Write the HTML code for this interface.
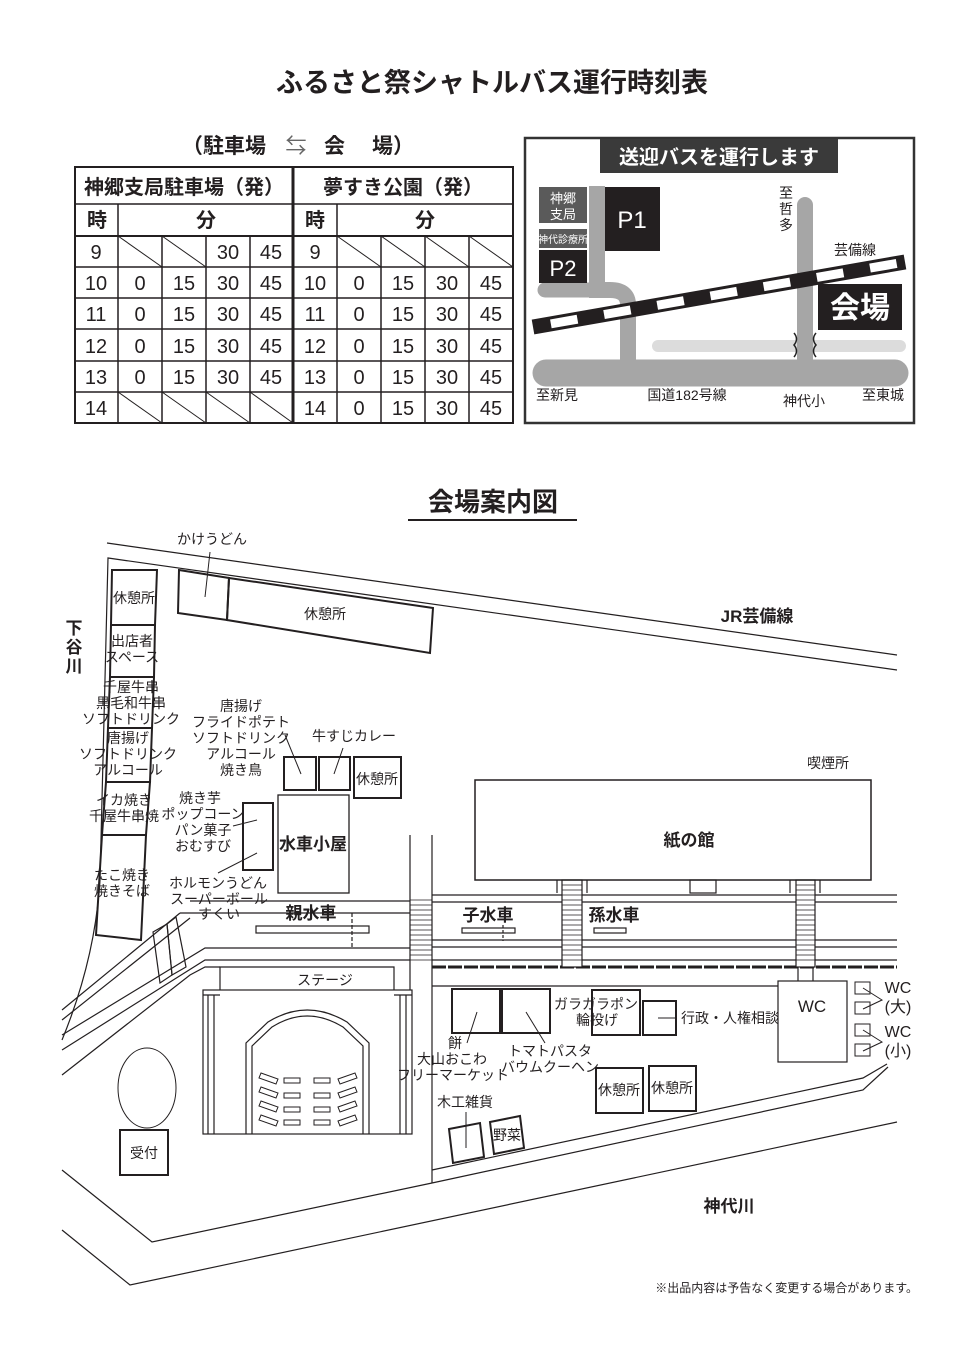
<!DOCTYPE html>
<html><head><meta charset="utf-8"><style>
html,body{margin:0;padding:0;background:#fff}
svg{display:block}
text{font-family:"Liberation Sans","Noto Sans CJK JP",sans-serif;fill:#231f20}
.b{font-weight:bold}
</style></head><body>
<svg width="954" height="1350" viewBox="0 0 954 1350" xmlns="http://www.w3.org/2000/svg">
<!-- Titles -->
<text x="492" y="92" font-size="27" class="b" text-anchor="middle">ふるさと祭シャトルバス運行時刻表</text>
<g font-size="21" class="b">
<text x="182" y="153">（駐車場</text>
<text x="296" y="153" text-anchor="middle" font-weight="normal" style="fill:#666">⇆</text>
<text x="324" y="153">会</text>
<text x="372" y="153">場）</text>
</g>

<!-- Timetable -->
<g stroke="#231f20" fill="none" stroke-width="1.5">
<rect x="75" y="167" width="438" height="256" stroke-width="2"/>
<line x1="75" y1="204" x2="513" y2="204"/>
<line x1="75" y1="236" x2="513" y2="236" stroke-width="2"/>
<line x1="75" y1="267" x2="513" y2="267"/>
<line x1="75" y1="298" x2="513" y2="298"/>
<line x1="75" y1="329" x2="513" y2="329"/>
<line x1="75" y1="361" x2="513" y2="361"/>
<line x1="75" y1="392" x2="513" y2="392"/>
<line x1="293" y1="167" x2="293" y2="423" stroke-width="3"/>
<line x1="118" y1="204" x2="118" y2="423"/>
<line x1="337" y1="204" x2="337" y2="423"/>
<line x1="162" y1="236" x2="162" y2="423"/><line x1="206" y1="236" x2="206" y2="423"/><line x1="250" y1="236" x2="250" y2="423"/>
<line x1="381" y1="236" x2="381" y2="423"/><line x1="425" y1="236" x2="425" y2="423"/><line x1="469" y1="236" x2="469" y2="423"/>
<line x1="118" y1="236" x2="162" y2="267" stroke-width="1"/><line x1="162" y1="236" x2="206" y2="267" stroke-width="1"/>
<line x1="337" y1="236" x2="381" y2="267" stroke-width="1"/><line x1="381" y1="236" x2="425" y2="267" stroke-width="1"/>
<line x1="425" y1="236" x2="469" y2="267" stroke-width="1"/><line x1="469" y1="236" x2="513" y2="267" stroke-width="1"/>
<line x1="118" y1="392" x2="162" y2="423" stroke-width="1"/><line x1="162" y1="392" x2="206" y2="423" stroke-width="1"/>
<line x1="206" y1="392" x2="250" y2="423" stroke-width="1"/><line x1="250" y1="392" x2="293" y2="423" stroke-width="1"/>
</g>
<g font-size="20">
<text x="184" y="194" class="b" text-anchor="middle">神郷支局駐車場（発）</text>
<text x="403" y="194" class="b" text-anchor="middle">夢すき公園（発）</text>
<text x="97" y="227" text-anchor="middle" class="b">時</text><text x="206" y="227" text-anchor="middle" class="b">分</text>
<text x="315" y="227" text-anchor="middle" class="b">時</text><text x="425" y="227" text-anchor="middle" class="b">分</text>
</g>
<g font-size="20" text-anchor="middle">
<text x="96" y="259">9</text><text x="228" y="259">30</text><text x="271" y="259">45</text><text x="315" y="259">9</text>
<text x="96" y="290">10</text><text x="140" y="290">0</text><text x="184" y="290">15</text><text x="228" y="290">30</text><text x="271" y="290">45</text>
<text x="315" y="290">10</text><text x="359" y="290">0</text><text x="403" y="290">15</text><text x="447" y="290">30</text><text x="491" y="290">45</text>
<text x="96" y="321">11</text><text x="140" y="321">0</text><text x="184" y="321">15</text><text x="228" y="321">30</text><text x="271" y="321">45</text>
<text x="315" y="321">11</text><text x="359" y="321">0</text><text x="403" y="321">15</text><text x="447" y="321">30</text><text x="491" y="321">45</text>
<text x="96" y="353">12</text><text x="140" y="353">0</text><text x="184" y="353">15</text><text x="228" y="353">30</text><text x="271" y="353">45</text>
<text x="315" y="353">12</text><text x="359" y="353">0</text><text x="403" y="353">15</text><text x="447" y="353">30</text><text x="491" y="353">45</text>
<text x="96" y="384">13</text><text x="140" y="384">0</text><text x="184" y="384">15</text><text x="228" y="384">30</text><text x="271" y="384">45</text>
<text x="315" y="384">13</text><text x="359" y="384">0</text><text x="403" y="384">15</text><text x="447" y="384">30</text><text x="491" y="384">45</text>
<text x="96" y="415">14</text>
<text x="315" y="415">14</text><text x="359" y="415">0</text><text x="403" y="415">15</text><text x="447" y="415">30</text><text x="491" y="415">45</text>
</g>

<!-- Access map -->
<rect x="525" y="138" width="389" height="285" fill="#fff" stroke="#333" stroke-width="2.5"/>
<rect x="600" y="139" width="238" height="34" fill="#3a3a3a"/>
<text x="719" y="164" font-size="20" class="b" text-anchor="middle" style="fill:#fff">送迎バスを運行します</text>
<g stroke="#a6a6a6" stroke-linecap="round" fill="none">
<line x1="658" y1="346" x2="900" y2="346" stroke="#dcdcdc" stroke-width="12"/>
<path d="M597 186 V290 H610 Q628 290 628 305 V373" stroke-width="16" stroke-linecap="butt"/>
<line x1="545" y1="290" x2="600" y2="290" stroke-width="15"/>
<line x1="805" y1="205" x2="805" y2="373" stroke-width="16"/>
<line x1="546" y1="373" x2="895" y2="373" stroke-width="27"/>
</g>
<g stroke="#222" stroke-width="1.5" fill="none">
<path d="M794 333 q5 6 0 12 q5 6 0 12"/><path d="M816 333 q-5 6 0 12 q-5 6 0 12"/>
</g>
<line x1="533" y1="327" x2="905" y2="262" stroke="#231f20" stroke-width="15"/>
<line x1="541" y1="325.6" x2="905" y2="262" stroke="#fff" stroke-width="9" stroke-dasharray="27 27" stroke-dashoffset="-10"/>
<rect x="539" y="187" width="48" height="36" fill="#5a5a5a"/>
<text x="563" y="203" font-size="13" text-anchor="middle" style="fill:#fff">神郷</text>
<text x="563" y="219" font-size="13" text-anchor="middle" style="fill:#fff">支局</text>
<rect x="539" y="229" width="48" height="19" fill="#5a5a5a"/>
<text x="563" y="243" font-size="10" text-anchor="middle" style="fill:#fff">神代診療所</text>
<rect x="539" y="250" width="48" height="33" fill="#231f20"/>
<text x="563" y="276" font-size="22" text-anchor="middle" style="fill:#fff">P2</text>
<rect x="605" y="187" width="55" height="64" fill="#231f20"/>
<text x="632" y="228" font-size="24" text-anchor="middle" style="fill:#fff">P1</text>
<rect x="818" y="284" width="84" height="46" fill="#231f20"/>
<text x="860" y="318" font-size="30" class="b" text-anchor="middle" style="fill:#fff">会場</text>
<g font-size="14">
<text x="786" y="198" text-anchor="middle">至</text><text x="786" y="214" text-anchor="middle">哲</text><text x="786" y="230" text-anchor="middle">多</text>
<text x="855" y="255" text-anchor="middle">芸備線</text>
<text x="557" y="400" text-anchor="middle">至新見</text>
<text x="687" y="400" text-anchor="middle">国道182号線</text>
<text x="804" y="406" text-anchor="middle">神代小</text>
<text x="883" y="400" text-anchor="middle">至東城</text>
</g>

<!-- Venue map title -->
<text x="493" y="511" font-size="26" class="b" text-anchor="middle">会場案内図</text>
<line x1="408" y1="520" x2="577" y2="520" stroke="#231f20" stroke-width="2"/>

<g stroke="#231f20" fill="none" stroke-width="1.2">
<line x1="107" y1="543" x2="897" y2="655"/>
<path d="M897 670 L108 558 L100 880 Q95 960 62 1040"/>
<path d="M62 1170 L152 1242 L432 1183"/>
<path d="M62 1230 L130 1285 L897 1122"/>
<path d="M432 1170 L863 1078 L887 1064"/>
<path d="M432 1183 L863 1090 L888 1067"/>
<line x1="410" y1="835" x2="410" y2="990"/>
<line x1="432" y1="835" x2="432" y2="1183"/>
<path d="M410 900 H432 M410 905 H432 M410 910 H432 M410 915 H432 M410 920 H432 M410 925 H432 M410 930 H432 M410 935 H432 M410 940 H432 M410 945 H432 M410 950 H432 M410 955 H432 M410 960 H432" stroke-width="0.7"/>
<line x1="432" y1="895" x2="897" y2="895"/>
<line x1="432" y1="902" x2="897" y2="902"/>
<line x1="432" y1="940" x2="897" y2="940"/>
<line x1="432" y1="947" x2="897" y2="947"/>
<line x1="432" y1="960" x2="897" y2="960"/>
<line x1="432" y1="967" x2="897" y2="967" stroke-width="3" stroke-dasharray="14 2"/>
<line x1="432" y1="986" x2="778" y2="986"/>
<path d="M190 901 H410"/>
<path d="M180 913 H410"/>
<path d="M62 1010 L180 913"/>
<path d="M62 1020 L190 918"/>
<path d="M62 1035 L205 948 H410"/>
<path d="M62 1050 L205 960 H410"/>
<path d="M62 1075 L190 975 L205 967 H220"/>
<polygon points="153,932 167,924 172,975 160,983"/>
<polygon points="167,924 176,917 186,967 172,975"/>
<rect x="256" y="926" width="113" height="7"/>
<line x1="352" y1="913" x2="352" y2="948" stroke-dasharray="4 2"/>
<rect x="462" y="928" width="53" height="5"/>
<line x1="503" y1="925" x2="503" y2="941" stroke-dasharray="3 2"/>
<rect x="594" y="928" width="32" height="5"/>
<rect x="562" y="880" width="20" height="87" fill="#fff"/>
<path d="M562 885 H582 M562 890 H582 M562 895 H582 M562 900 H582 M562 905 H582 M562 910 H582 M562 915 H582 M562 920 H582 M562 925 H582 M562 930 H582 M562 935 H582 M562 940 H582 M562 945 H582 M562 950 H582 M562 955 H582 M562 960 H582" stroke-width="0.7"/>
<rect x="796" y="880" width="19" height="87" fill="#fff"/>
<path d="M796 885 H815 M796 890 H815 M796 895 H815 M796 900 H815 M796 905 H815 M796 910 H815 M796 915 H815 M796 920 H815 M796 925 H815 M796 930 H815 M796 935 H815 M796 940 H815 M796 945 H815 M796 950 H815 M796 955 H815 M796 960 H815" stroke-width="0.7"/>
<line x1="798" y1="967" x2="798" y2="981"/><line x1="813" y1="967" x2="813" y2="981"/>
<rect x="475" y="780" width="396" height="100" stroke-width="1.5"/>
<rect x="690" y="880" width="26" height="13"/>
<line x1="557" y1="880" x2="557" y2="893"/><line x1="587" y1="880" x2="587" y2="893"/>
<line x1="790" y1="880" x2="790" y2="893"/><line x1="820" y1="880" x2="820" y2="893"/>
<path d="M220 990 V967 H394 V990"/>
<rect x="203" y="990" width="209" height="144"/>
<line x1="208" y1="995" x2="208" y2="1134"/><line x1="214" y1="995" x2="214" y2="1134"/>
<line x1="400" y1="995" x2="400" y2="1134"/><line x1="406" y1="995" x2="406" y2="1134"/>
<line x1="203" y1="995" x2="220" y2="995"/><line x1="394" y1="995" x2="412" y2="995"/>
<path d="M246 1134 V1043 L268 1022 Q307 998 347 1022 L369 1043 V1134"/>
<path d="M252 1134 V1046 L272 1027 Q307 1005 343 1027 L363 1046 V1134"/>
<g stroke-width="1">
<rect x="284" y="1078" width="16" height="5"/><rect x="314" y="1078" width="16" height="5"/>
<rect x="284" y="1093" width="16" height="5"/><rect x="314" y="1093" width="16" height="5"/>
<rect x="284" y="1107" width="16" height="5"/><rect x="314" y="1107" width="16" height="5"/>
<rect x="284" y="1120" width="16" height="5"/><rect x="314" y="1120" width="16" height="5"/>
<polygon points="261,1073 278,1079 276,1084 259,1078"/><polygon points="261,1087 278,1093 276,1098 259,1092"/>
<polygon points="261,1101 278,1107 276,1112 259,1106"/><polygon points="261,1115 278,1121 276,1126 259,1120"/>
<polygon points="338,1079 355,1073 357,1078 340,1084"/><polygon points="338,1093 355,1087 357,1092 340,1098"/>
<polygon points="338,1107 355,1101 357,1106 340,1112"/><polygon points="338,1121 355,1115 357,1120 340,1126"/>
</g>
</g>
<g stroke="#231f20" fill="none" stroke-width="2">
<polygon points="179,570 229,578 227,620 178,613"/>
<polygon points="229,578 433,608 430,653 227,620"/>
<polygon points="112,570 157,570 155,625 111,625"/>
<polygon points="111,625 155,625 154,677 110,677"/>
<polygon points="110,677 154,677 152,728 108,728"/>
<polygon points="108,728 152,728 150,782 106,782"/>
<polygon points="106,782 150,782 146,835 102,835"/>
<polygon points="102,835 146,835 141,940 96,935"/>
<rect x="284" y="757" width="32" height="33"/>
<rect x="319" y="757" width="31" height="33"/>
<rect x="354" y="757" width="47" height="41"/>
<rect x="278" y="795" width="71" height="98" stroke-width="1.3"/>
<rect x="243" y="803" width="30" height="67"/>
<rect x="452" y="989" width="48" height="44"/>
<rect x="502" y="989" width="48" height="44"/>
<rect x="592" y="990" width="48" height="45"/>
<rect x="643" y="1001" width="33" height="34"/>
<rect x="596" y="1068" width="47" height="45"/>
<rect x="649" y="1066" width="47" height="45"/>
<polygon points="449,1129 480,1123 484,1157 453,1163"/>
<polygon points="490,1122 520,1116 524,1148 494,1154"/>
<rect x="120" y="1130" width="48" height="45"/>
<rect x="778" y="981" width="69" height="81" stroke-width="1.2"/>
</g>
<g stroke="#231f20" fill="none" stroke-width="1">
<ellipse cx="147" cy="1088" rx="29" ry="40"/>
<rect x="855" y="982" width="15" height="12"/><rect x="855" y="1002" width="15" height="12"/>
<rect x="855" y="1024" width="15" height="12"/><rect x="855" y="1044" width="15" height="12"/>
<path d="M863 988 L882 1000 L863 1009"/><path d="M863 1030 L882 1042 L863 1051"/>
<line x1="210" y1="552" x2="205" y2="597"/>
<line x1="285" y1="735" x2="301" y2="774"/>
<line x1="343" y1="748" x2="334" y2="774"/>
<line x1="233" y1="826" x2="257" y2="820"/>
<line x1="218" y1="873" x2="257" y2="853"/>
<line x1="477" y1="1012" x2="467" y2="1043"/>
<line x1="526" y1="1012" x2="545" y2="1043"/>
<line x1="658" y1="1018" x2="676" y2="1018"/>
<line x1="466" y1="1112" x2="466" y2="1148"/>
</g>

<g font-size="14" text-anchor="middle">
<text x="212" y="544">かけうどん</text>
<text x="325" y="619">休憩所</text>
<text x="134" y="603">休憩所</text>
<text x="132" y="646">出店者</text><text x="132" y="662">スペース</text>
<text x="131" y="692">千屋牛串</text><text x="131" y="708">黒毛和牛串</text><text x="131" y="724">ソフトドリンク</text>
<text x="128" y="743">唐揚げ</text><text x="128" y="759">ソフトドリンク</text><text x="128" y="775">アルコール</text>
<text x="124" y="805">イカ焼き</text><text x="124" y="821">千屋牛串焼</text>
<text x="122" y="880">たこ焼き</text><text x="122" y="896">焼きそば</text>
<text x="241" y="711">唐揚げ</text><text x="241" y="727">フライドポテト</text><text x="241" y="743">ソフトドリンク</text><text x="241" y="759">アルコール</text><text x="241" y="775">焼き鳥</text>
<text x="354" y="741">牛すじカレー</text>
<text x="377" y="784">休憩所</text>
<text x="200" y="803">焼き芋</text><text x="203" y="819">ポップコーン</text><text x="203" y="835">パン菓子</text><text x="203" y="851">おむすび</text>
<text x="218" y="888">ホルモンうどん</text><text x="219" y="904">スーパーボール</text><text x="219" y="919">すくい</text>
<text x="828" y="768">喫煙所</text>
<text x="325" y="985">ステージ</text>
<text x="144" y="1158">受付</text>
<text x="455" y="1048">餅</text><text x="452" y="1064">大山おこわ</text><text x="453" y="1080">フリーマーケット</text>
<text x="550" y="1056">トマトパスタ</text><text x="550" y="1072">バウムクーヘン</text>
<text x="596" y="1009">ガラガラポン</text><text x="597" y="1025">輪投げ</text>
<text x="730" y="1023">行政・人権相談</text>
<text x="619" y="1095">休憩所</text><text x="672" y="1093">休憩所</text>
<text x="465" y="1107">木工雑貨</text>
<text x="507" y="1140">野菜</text>
</g>
<g font-size="17" class="b" text-anchor="middle">
<text x="757" y="622">JR芸備線</text>
<text x="689" y="846">紙の館</text>
<text x="313" y="850">水車小屋</text>
<text x="311" y="919">親水車</text>
<text x="488" y="921">子水車</text>
<text x="614" y="921">孫水車</text>
<text x="729" y="1212">神代川</text>
<text x="74" y="634">下</text><text x="74" y="653">谷</text><text x="74" y="672">川</text>
</g>
<text x="812" y="1012" font-size="17" text-anchor="middle">WC</text>
<g font-size="16" text-anchor="middle">
<text x="898" y="993">WC</text><text x="898" y="1012">(大)</text>
<text x="898" y="1037">WC</text><text x="898" y="1056">(小)</text>
</g>
<text x="918" y="1292" font-size="12" text-anchor="end">※出品内容は予告なく変更する場合があります。</text>
</svg>
</body></html>
